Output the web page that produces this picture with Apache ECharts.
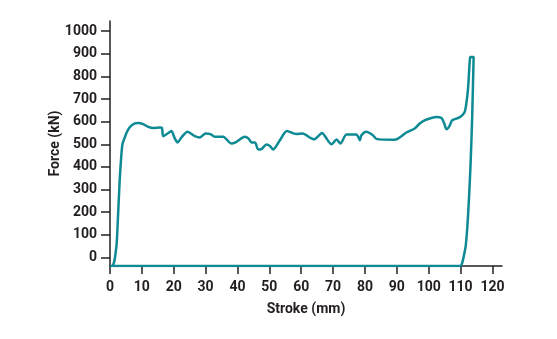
<!DOCTYPE html>
<html>
<head>
<meta charset="utf-8">
<script src="https://cdn.jsdelivr.net/npm/echarts@6/dist/echarts.min.js"></script>
<style>
  html, body { margin: 0; padding: 0; background: #ffffff; }
  #chart { width: 557px; height: 339px; }
</style>
</head>
<body>
<div id="chart"></div>
<script>
// Force–stroke loop: loading path (left to right, up the spike), then unloading back along the base.
const stroke = [
  0, 0.8, 1.3, 1.6, 2.1, 2.6, 3.1, 3.5, 3.9, 4.7, 5.5, 6.3, 7.8, 8.9, 10.4, 12.0, 13.6, 15.7, 16.3, 16.7,
  18.3, 19.3, 20.2, 21.2, 22.4, 24.3, 26.6, 28.2, 30.0, 31.5, 32.9, 35.5, 38.1, 39.7, 42.3, 43.5, 44.4, 45.5,
  46.5, 47.6, 49.1, 50.2, 51.2, 53.3, 55.5, 58.4, 60.4, 62.7, 64.0, 66.6, 67.5, 69.5, 71.1, 72.3, 74.2, 77.3,
  78.0, 78.4, 78.9, 80.4, 82.5, 83.6, 89.3, 93.0, 95.6, 97.2, 98.7, 100.3, 102.4, 104.0, 104.8, 105.6, 106.5,
  107.3, 108.2, 109.5, 110.5, 111.3, 111.8, 112.3, 112.9, 113.1, 114.1,
  113.6, 113.1, 112.6, 112.1, 111.6, 111.0, 110.5, 110.0, 0
];
const force = [
  -38, -36, -20, 3, 62, 209, 356, 440, 500, 533, 560, 577, 592, 594, 589, 577, 572, 574, 572, 536,
  550, 559, 530, 508, 530, 555, 536, 530, 548, 545, 533, 533, 503, 511, 533, 525, 508, 508,
  477, 480, 499, 492, 477, 518, 559, 545, 548, 530, 522, 550, 535, 500, 521, 503, 543, 543,
  530, 518, 540, 555, 540, 524, 520, 552, 570, 592, 606, 614, 621, 616, 595, 566, 580,
  605, 611, 618, 628, 643, 680, 739, 872, 886, 886,
  600, 400, 250, 130, 50, 5, -25, -38, -38
];

const xTicks = [0, 10, 20, 30, 40, 50, 60, 70, 80, 90, 100, 110, 120];
const yTicks = [0, 100, 200, 300, 400, 500, 600, 700, 800, 900, 1000];

const ink = '#231f20';
const teal = '#0d8a93';
const labelFont = { color: ink, fontSize: 14, fontWeight: 'bold', fontFamily: 'Roboto' };

const points = stroke.map((s, i) => [s, force[i]]);

const chart = echarts.init(document.getElementById('chart'), null, { renderer: 'canvas' });
chart.setOption({
  animation: false,
  backgroundColor: '#ffffff',
  grid: { left: 110, right: 55, top: 21, bottom: 73, containLabel: false },
  xAxis: {
    type: 'value',
    min: 0,
    max: 123,
    name: 'Stroke (mm)',
    nameLocation: 'middle',
    nameGap: 36,
    nameMoveOverlap: false,
    nameTextStyle: labelFont,
    axisLine: { show: true, onZero: false, lineStyle: { color: ink, width: 1.5 } },
    axisTick: { show: true, length: 8, lineStyle: { color: ink, width: 1.5 }, customValues: xTicks },
    axisLabel: Object.assign({ margin: 14, customValues: xTicks, formatter: v => String(v) }, labelFont),
    splitLine: { show: false }
  },
  yAxis: {
    type: 'value',
    min: -38,
    max: 1045,
    name: 'Force (kN)',
    nameLocation: 'middle',
    nameRotate: 90,
    nameGap: 48,
    nameMoveOverlap: false,
    nameTextStyle: labelFont,
    axisLine: { show: true, onZero: false, lineStyle: { color: ink, width: 1.5 } },
    axisTick: { show: true, length: 9, lineStyle: { color: ink, width: 1.5 }, customValues: yTicks },
    axisLabel: Object.assign({ margin: 13, customValues: yTicks, formatter: v => String(v) }, labelFont),
    splitLine: { show: false }
  },
  series: [{
    type: 'line',
    data: points,
    showSymbol: false,
    smooth: 0.25,
    lineStyle: { color: teal, width: 2.5 },
    z: 1
  }]
});
</script>
</body>
</html>
